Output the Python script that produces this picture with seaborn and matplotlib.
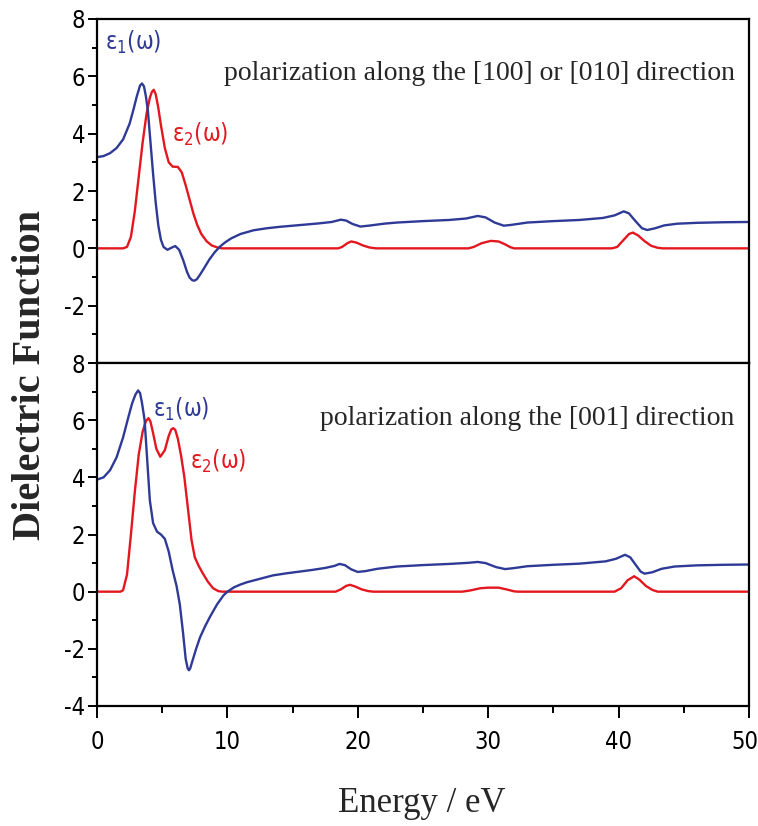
import matplotlib
matplotlib.use("Agg")
import matplotlib.pyplot as plt
import seaborn as sns
import pandas as pd
from matplotlib import font_manager
from matplotlib.transforms import ScaledTranslation
from matplotlib.ticker import MultipleLocator, FuncFormatter

# ---------------- data ----------------
top_e1_E = [0, 0.5, 1.0, 1.5, 2.0, 2.5, 2.8, 3.05, 3.3, 3.45, 3.6, 3.75, 3.9, 4.1, 4.3, 4.5, 4.7, 4.9,
            5.1, 5.4, 5.7, 6.0, 6.3, 6.6, 6.9, 7.1, 7.3, 7.45, 7.65, 7.9, 8.2, 8.6, 9.0, 9.4, 9.8,
            10.3, 11.0, 12.0, 13.0, 14.0, 15.0, 16.0, 17.0, 18.0, 18.7, 19.1, 19.6, 20.2,
            21.0, 22.0, 23.0, 25.0, 27.0, 28.3, 29.2, 29.8, 30.5, 31.2, 31.8, 33.0, 35.0,
            37.0, 38.8, 39.7, 40.4, 40.8, 41.3, 41.8, 42.2, 42.8, 43.5, 44.5, 46, 48, 50]
top_e1_V = [3.18, 3.22, 3.32, 3.5, 3.8, 4.35, 4.85, 5.3, 5.68, 5.75, 5.65, 5.3, 4.8, 3.7, 2.6, 1.6, 0.8, 0.3,
            0.05, -0.05, 0.02, 0.08, -0.05, -0.4, -0.82, -1.02, -1.11, -1.13, -1.08, -0.92, -0.7, -0.4, -0.15, 0.05, 0.2,
            0.35, 0.5, 0.63, 0.7, 0.75, 0.79, 0.83, 0.87, 0.92, 1.0, 0.97, 0.85, 0.76,
            0.8, 0.86, 0.9, 0.95, 0.99, 1.04, 1.13, 1.08, 0.9, 0.79, 0.82, 0.9, 0.95,
            0.99, 1.06, 1.15, 1.29, 1.22, 0.95, 0.7, 0.64, 0.7, 0.8, 0.86, 0.89, 0.91, 0.92]

top_e2_E = [0, 2.0, 2.3, 2.6, 2.9, 3.2, 3.5, 3.8, 4.05, 4.2, 4.35, 4.5, 4.7, 4.9, 5.2, 5.5, 5.8, 6.2, 6.5,
            6.8, 7.1, 7.4, 7.7, 8.0, 8.4, 8.8, 9.3, 9.6, 18.5, 18.8, 19.2, 19.5, 19.9, 20.4,
            20.9, 21.4, 28.5, 28.9, 29.5, 30.2, 30.8, 31.3, 31.7, 32.0, 39.5, 39.9, 40.4,
            40.8, 41.1, 41.5, 42.0, 42.5, 43.0, 43.4, 50]
top_e2_V = [0, 0, 0.05, 0.4, 1.3, 2.5, 3.7, 4.7, 5.25, 5.45, 5.53, 5.38, 4.9, 4.3, 3.5, 3.0, 2.85, 2.84, 2.65,
            2.2, 1.7, 1.2, 0.8, 0.5, 0.25, 0.1, 0.02, 0, 0, 0.05, 0.18, 0.24, 0.2, 0.1,
            0.03, 0, 0, 0.05, 0.18, 0.26, 0.24, 0.14, 0.04, 0, 0, 0.05, 0.3,
            0.5, 0.55, 0.45, 0.25, 0.09, 0.02, 0, 0]

bot_e1_E = [0, 0.5, 1.0, 1.5, 2.0, 2.4, 2.7, 2.95, 3.15, 3.3, 3.45, 3.65, 3.85, 4.05, 4.3, 4.6, 4.9, 5.2,
            5.5, 5.8, 6.1, 6.35, 6.6, 6.8, 6.95, 7.05, 7.15, 7.3, 7.6, 7.9, 8.3, 8.7, 9.2, 9.7, 10.0,
            10.5, 11.0, 11.5, 12.5, 13.5, 14.5, 15.5, 16.5, 17.5, 18.2, 18.6, 19.0, 19.5,
            20.0, 20.6, 21.5, 23.0, 25.0, 27.0, 28.5, 29.2, 29.8, 30.6, 31.3, 31.9, 33.0,
            35.0, 37.0, 39.0, 39.8, 40.5, 40.9, 41.3, 41.7, 42.0, 42.6, 43.3, 44.3, 46, 48, 50]
bot_e1_V = [3.92, 4.0, 4.25, 4.7, 5.4, 6.1, 6.6, 6.9, 7.04, 6.95, 6.6, 6.0, 4.6, 3.2, 2.4, 2.1, 2.0, 1.85,
            1.4, 0.75, 0.2, -0.45, -1.45, -2.35, -2.68, -2.75, -2.68, -2.45, -2.0, -1.6, -1.2, -0.85, -0.45, -0.13, 0.0,
            0.15, 0.25, 0.33, 0.45, 0.57, 0.64, 0.7, 0.76, 0.83, 0.9, 0.97, 0.93, 0.78,
            0.69, 0.72, 0.8, 0.88, 0.93, 0.97, 1.01, 1.04, 1.0, 0.86, 0.79, 0.82, 0.89,
            0.94, 0.98, 1.06, 1.15, 1.29, 1.2, 0.95, 0.7, 0.63, 0.68, 0.8, 0.88, 0.92, 0.94, 0.95]

bot_e2_E = [0, 1.8, 2.0, 2.3, 2.6, 2.9, 3.2, 3.5, 3.75, 3.95, 4.1, 4.3, 4.55, 4.85, 5.2, 5.5, 5.7, 5.85,
            6.0, 6.2, 6.45, 6.7, 7.0, 7.25, 7.5, 7.8, 8.1, 8.5, 8.9, 9.3, 9.6, 18.3, 18.7, 19.1,
            19.4, 19.8, 20.3, 20.8, 21.2, 28.0, 28.6, 29.4, 30.0, 30.8, 31.4, 32.0, 32.3,
            39.7, 40.2, 40.7, 41.2, 41.6, 42.1, 42.6, 43.0, 50]
bot_e2_V = [0, 0, 0.05, 0.6, 2.0, 3.5, 4.8, 5.6, 5.97, 6.07, 5.95, 5.55, 5.0, 4.72, 4.95, 5.45, 5.68, 5.72,
            5.66, 5.35, 4.75, 4.0, 2.8, 1.8, 1.2, 0.9, 0.65, 0.35, 0.12, 0.02, 0, 0, 0.08, 0.2,
            0.24, 0.18, 0.08, 0.02, 0, 0, 0.04, 0.12, 0.14, 0.14, 0.08, 0.01, 0,
            0, 0.12, 0.4, 0.54, 0.42, 0.2, 0.06, 0, 0]

x_ticks = [0, 10, 20, 30, 40, 50]
y_ticks = [-4, -2, 0, 2, 4, 6, 8]
top_title = "polarization along the [100] or [010] direction"
bot_title = "polarization along the [001] direction"
x_label = "Energy / eV"
y_label = "Dielectric Function"
lbl_e1 = "ε$_1$(ω)"
lbl_e2 = "ε$_2$(ω)"

BLUE = "#2E3A96"
RED = "#E3171F"

# ---------------- style ----------------
sns.set_style("ticks")
fonts = font_manager.fontManager.ttflist
names = {f.name for f in fonts}
has_dv_cond = any(f.name == "DejaVu Sans" and str(f.stretch) in ("condensed", "semi-condensed")
                  for f in fonts)
if "Liberation Sans Narrow" in names:
    SANS, STRETCH = "Liberation Sans Narrow", "normal"
elif has_dv_cond:
    SANS, STRETCH = "DejaVu Sans", "condensed"
else:
    SANS, STRETCH = "Liberation Sans", "normal"
SERIF = "Liberation Serif"
plt.rcParams["font.family"] = [SANS, "DejaVu Sans"]
plt.rcParams["font.stretch"] = STRETCH
plt.rcParams["axes.unicode_minus"] = False
plt.rcParams["mathtext.fontset"] = "custom"
plt.rcParams["mathtext.rm"] = SANS
plt.rcParams["mathtext.it"] = SANS
plt.rcParams["mathtext.default"] = "rm"

TICK_FS = 16 if STRETCH == "normal" else 17

fig = plt.figure(figsize=(7.58, 8.26), dpi=100)
ax1 = fig.add_axes([0.128, 0.5605, 0.860, 0.4165])
ax2 = fig.add_axes([0.128, 0.1453, 0.860, 0.4152])

panels = [
    (ax1, top_e1_E, top_e1_V, top_e2_E, top_e2_V),
    (ax2, bot_e1_E, bot_e1_V, bot_e2_E, bot_e2_V),
]
for ax, e1x, e1y, e2x, e2y in panels:
    d1 = pd.DataFrame({"E": e1x, "v": e1y})
    d2 = pd.DataFrame({"E": e2x, "v": e2y})
    sns.lineplot(data=d2, x="E", y="v", ax=ax, color=RED, lw=1.7,
                 estimator=None, sort=False, legend=False)
    sns.lineplot(data=d1, x="E", y="v", ax=ax, color=BLUE, lw=1.7,
                 estimator=None, sort=False, legend=False)
    ax.set_xlim(0, 50)
    ax.set_ylim(-4, 8)
    ax.set_xticks(x_ticks)
    ax.set_yticks(y_ticks)
    ax.xaxis.set_minor_locator(MultipleLocator(5))
    ax.yaxis.set_minor_locator(MultipleLocator(1))
    ax.tick_params(axis="both", which="both", direction="out", width=1.4, colors="black")
    ax.tick_params(axis="x", which="major", length=8.5, pad=9, labelsize=TICK_FS)
    ax.tick_params(axis="x", which="minor", length=5)
    ax.tick_params(axis="y", which="major", length=6.5, pad=2, labelsize=TICK_FS)
    ax.tick_params(axis="y", which="minor", length=3.5)
    for s in ax.spines.values():
        s.set_linewidth(1.6)
        s.set_color("black")
    ax.set_xlabel("")
    ax.set_ylabel("")

ax1.yaxis.set_major_formatter(FuncFormatter(lambda v, p: "" if v == -4 else f"{v:g}"))
ax1.tick_params(axis="x", labelbottom=False)

# keep the last x tick label inside the canvas
fig.canvas.draw()
last = ax2.get_xticklabels()[-1]
last.set_transform(last.get_transform() + ScaledTranslation(-4 / 100, 0, fig.dpi_scale_trans))

# annotations
ax1.text(0.6, 7.2, lbl_e1, color=BLUE, fontsize=17, ha="left", va="center")
ax1.text(5.75, 3.97, lbl_e2, color=RED, fontsize=17, ha="left", va="center")
ax2.text(4.3, 6.36, lbl_e1, color=BLUE, fontsize=17, ha="left", va="center")
ax2.text(7.13, 4.55, lbl_e2, color=RED, fontsize=17, ha="left", va="center")

ax1.text(48.9, 5.86, top_title, family=SERIF, stretch="normal", fontsize=20, ha="right", va="baseline")
ax2.text(48.9, 5.84, bot_title, family=SERIF, stretch="normal", fontsize=20, ha="right", va="baseline")

fig.text(0.556, 1 - 812 / 826, x_label, family=SERIF, stretch="normal", fontsize=25,
         ha="center", va="baseline")
fig.text(0.04, 1 - 375 / 826, y_label, family=SERIF, stretch="normal", fontsize=29,
         fontweight="bold", rotation=90, ha="center", va="center")

fig.savefig("out.png", dpi=100)
